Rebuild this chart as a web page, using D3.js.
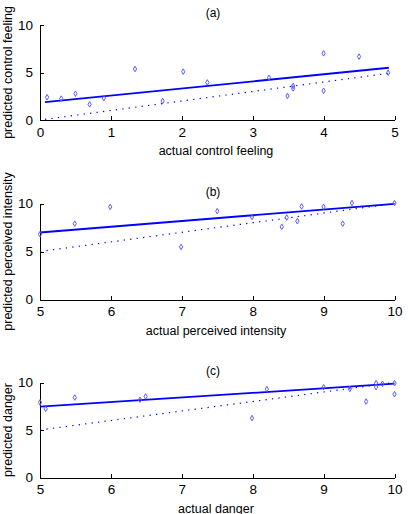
<!DOCTYPE html>
<html>
<head>
<meta charset="utf-8">
<script src="https://cdn.jsdelivr.net/npm/d3@7"></script>
<style>
  body { margin: 0; background: #fff; }
  svg { font-family: "Liberation Sans", Arial, sans-serif; }
  .axis path, .axis line { stroke: #000; shape-rendering: crispEdges; }
</style>
</head>
<body>
<div id="chart"></div>
<script>
// Panel (a) - control feeling
const aX = [0.1, 0.3, 0.5, 0.7, 0.9, 1.34, 1.73, 2.02, 2.36, 3.23, 3.49, 3.57, 3.57, 4.0, 4.0, 4.5, 4.91];
const aY = [2.4, 2.25, 2.77, 1.65, 2.3, 5.37, 2.0, 5.09, 3.95, 4.44, 2.53, 3.58, 3.33, 7.02, 3.07, 6.67, 4.98];
const aFit = [[0.07, 1.88], [4.92, 5.5]];
const aIdent = [[0.07, 0.07], [4.92, 4.92]];

// Panel (b) - perceived intensity
const bX = [5.0, 5.49, 5.99, 6.99, 7.5, 7.99, 8.41, 8.48, 8.63, 8.69, 9.0, 9.27, 9.4, 10.0];
const bY = [6.8, 7.9, 9.65, 5.48, 9.2, 8.6, 7.57, 8.54, 8.16, 9.69, 9.65, 7.9, 10.05, 10.05];
const bFit = [[5.0, 6.98], [10.0, 9.97]];
const bIdent = [[5.0, 5.0], [10.0, 10.0]];

// Panel (c) - danger
const cX = [5.0, 5.08, 5.49, 6.41, 6.49, 7.99, 8.2, 9.0, 9.37, 9.6, 9.74, 9.74, 9.83, 10.0, 10.0];
const cY = [7.9, 7.23, 8.42, 8.18, 8.53, 6.25, 9.3, 9.51, 9.33, 8.0, 9.93, 9.51, 9.87, 9.93, 8.77];
const cFit = [[5.0, 7.45], [10.0, 9.88]];
const cIdent = [[5.0, 5.0], [10.0, 10.0]];

const yTicks = [0, 5, 10];

const panels = [
  { title: '(a)', xs: aX, ys: aY, fit: aFit, ident: aIdent, xDomain: [0, 5], xTicks: [0, 1, 2, 3, 4, 5],
    xLabel: 'actual control feeling', yLabel: 'predicted control feeling', top: 25, bottom: 120 },
  { title: '(b)', xs: bX, ys: bY, fit: bFit, ident: bIdent, xDomain: [5, 10], xTicks: [5, 6, 7, 8, 9, 10],
    xLabel: 'actual perceived intensity', yLabel: 'predicted perceived intensity', top: 203.5, bottom: 299.5 },
  { title: '(c)', xs: cX, ys: cY, fit: cFit, ident: cIdent, xDomain: [5, 10], xTicks: [5, 6, 7, 8, 9, 10],
    xLabel: 'actual danger', yLabel: 'predicted danger', top: 382.5, bottom: 477.5 }
];

const W = 408, H = 514;
const left = 40, right = 394.5;
const blue = '#0000ff';
const pointBlue = '#5a5aff';
const fmt = d3.format('d');

const svg = d3.select('#chart').append('svg')
  .attr('width', W)
  .attr('height', H);

panels.forEach(p => {
  const x = d3.scaleLinear().domain(p.xDomain).range([left, right]);
  const y = d3.scaleLinear().domain([0, 10]).range([p.bottom, p.top]);
  const g = svg.append('g');

  // x axis - ticks point inward (up)
  const xAxis = g.append('g')
    .attr('class', 'axis')
    .attr('transform', `translate(0,${p.bottom})`)
    .call(d3.axisBottom(x).tickValues(p.xTicks).tickFormat(fmt).tickSize(-4).tickSizeOuter(0).tickPadding(7));
  xAxis.selectAll('text').attr('font-size', 13.5).attr('fill', '#000')
    .attr('font-family', '"Liberation Sans", Arial, sans-serif');

  // y axis - ticks point inward (right)
  const yAxis = g.append('g')
    .attr('class', 'axis')
    .attr('transform', `translate(${left},0)`)
    .call(d3.axisLeft(y).tickValues(yTicks).tickFormat(fmt).tickSize(-4).tickSizeOuter(0).tickPadding(7));
  yAxis.selectAll('text').attr('font-size', 13.5).attr('fill', '#000')
    .attr('font-family', '"Liberation Sans", Arial, sans-serif');

  // title
  g.append('text')
    .attr('x', 213)
    .attr('y', p.top - 8)
    .attr('text-anchor', 'middle')
    .attr('font-size', 12)
    .text(p.title);

  // axis labels
  g.append('text')
    .attr('x', 216)
    .attr('y', p.bottom + 35)
    .attr('text-anchor', 'middle')
    .attr('font-size', 12.5)
    .text(p.xLabel);

  g.append('text')
    .attr('transform', `translate(12,${(p.top + p.bottom) / 2}) rotate(-90)`)
    .attr('text-anchor', 'middle')
    .attr('font-size', 12.5)
    .text(p.yLabel);

  const line = d3.line().x(d => x(d[0])).y(d => y(d[1]));

  // identity line (dotted)
  g.append('path')
    .attr('d', line(p.ident))
    .attr('fill', 'none')
    .attr('stroke', blue)
    .attr('stroke-width', 1.2)
    .attr('stroke-dasharray', '1.3,5.2');

  // fitted line
  g.append('path')
    .attr('d', line(p.fit))
    .attr('fill', 'none')
    .attr('stroke', blue)
    .attr('stroke-width', 1.8);

  // data points
  const pts = p.xs.map((v, i) => [v, p.ys[i]]);
  g.selectAll('.pt')
    .data(pts)
    .enter()
    .append('path')
    .attr('class', 'pt')
    .attr('transform', d => `translate(${x(d[0])},${y(d[1])})`)
    .attr('d', d3.symbol().type(d3.symbolDiamond).size(9))
    .attr('fill', 'none')
    .attr('stroke', pointBlue)
    .attr('stroke-width', 1);
});
</script>
</body>
</html>
